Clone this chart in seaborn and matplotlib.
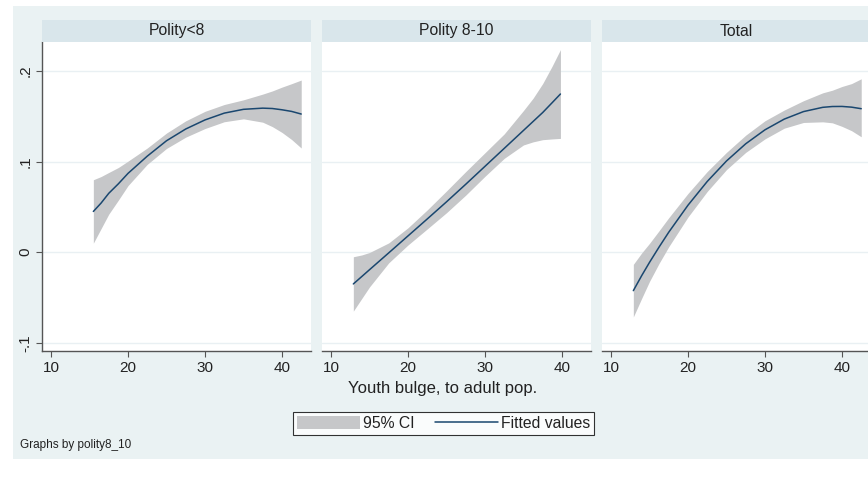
import numpy as np
import pandas as pd
import matplotlib
matplotlib.use("Agg")
import matplotlib.pyplot as plt
from matplotlib.patches import Rectangle, Patch
from matplotlib.lines import Line2D
import seaborn as sns

# ---------------- data ----------------
panels = ["Polity<8", "Polity 8-10", "Total"]

youth_lt8 = [15.5, 16.5, 17.5, 18.75, 20, 22.5, 25, 27.5, 30, 32.5, 35, 37.5, 38.75, 40, 41.25, 42.5]
fit_lt8 = [0.045, 0.0542, 0.065, 0.0755, 0.087, 0.106, 0.123, 0.136, 0.146, 0.1535, 0.1577, 0.159,
           0.1586, 0.1572, 0.1554, 0.1525]
hi_lt8 = [0.080, 0.0835, 0.088, 0.0935, 0.1005, 0.115, 0.1315, 0.145, 0.1555, 0.163, 0.1682, 0.1745,
          0.178, 0.1822, 0.186, 0.190]
lo_lt8 = [0.010, 0.026, 0.042, 0.0575, 0.0735, 0.097, 0.1145, 0.127, 0.1365, 0.144, 0.1472, 0.1435,
          0.1386, 0.1322, 0.1244, 0.115]

youth_810 = [12.9, 14, 15, 17.5, 20, 22.5, 25, 27.5, 30, 32.5, 35, 36.25, 37.5, 38.7, 39.8]
fit_810 = [-0.035, -0.0268, -0.0193, -0.0007, 0.018, 0.0367, 0.0556, 0.075, 0.0948, 0.1146, 0.1344,
           0.1443, 0.1542, 0.1648, 0.1746]
hi_810 = [-0.005, -0.003, -0.0003, 0.0103, 0.027, 0.0467, 0.0676, 0.089, 0.1098, 0.1306, 0.1564,
          0.170, 0.1862, 0.205, 0.2236]
lo_810 = [-0.065, -0.051, -0.0383, -0.0117, 0.008, 0.0257, 0.0436, 0.063, 0.0838, 0.1036, 0.1184,
          0.1218, 0.1242, 0.1250, 0.1256]

youth_tot = [12.9, 14, 15, 16.25, 17.5, 20, 22.5, 25, 27.5, 30, 32.5, 35, 37.5, 38.75, 40, 41.25, 42.5]
fit_tot = [-0.0424, -0.0256, -0.0112, 0.0058, 0.0221, 0.0519, 0.0781, 0.1007, 0.1197, 0.1351, 0.1469,
           0.1552, 0.1599, 0.1608, 0.1609, 0.1601, 0.1584]
hi_tot = [-0.0134, -0.0006, 0.0098, 0.0238, 0.0381, 0.0649, 0.0891, 0.1102, 0.1292, 0.1451, 0.1569,
          0.1672, 0.1759, 0.1788, 0.1829, 0.1861, 0.1914]
lo_tot = [-0.0714, -0.0506, -0.0322, -0.0122, 0.0061, 0.0389, 0.0671, 0.0912, 0.1102, 0.1251, 0.1369,
          0.1432, 0.1439, 0.1428, 0.1389, 0.1341, 0.1274]

x_ticks = [10, 20, 30, 40]
y_ticks = [-0.1, 0.0, 0.1, 0.2]
y_tick_labels = ["-.1", "0", ".1", ".2"]

frames = []
for name, xs, f, lo, hi in [
    (panels[0], youth_lt8, fit_lt8, lo_lt8, hi_lt8),
    (panels[1], youth_810, fit_810, lo_810, hi_810),
    (panels[2], youth_tot, fit_tot, lo_tot, hi_tot),
]:
    frames.append(pd.DataFrame({"group": name, "youth": xs, "fit": f, "lo": lo, "hi": hi}))
df = pd.concat(frames, ignore_index=True)

# ---------------- styling ----------------
sns.set_style("white")
plt.rcParams["font.family"] = ["Liberation Sans", "DejaVu Sans"]

W, H = 868, 479
BG = "#eaf2f3"
STRIP = "#d9e6eb"
GRID = "#e9f0f3"
CI = "#c6c7c9"
NAVY = "#1a476f"
AXC = "#555555"
TXT = "#222222"

fig = plt.figure(figsize=(W / 100, H / 100), dpi=100)
fig.patch.set_facecolor("white")
fig.add_artist(Rectangle((13 / W, 1 - 459 / H), 1 - 13 / W, (459 - 6) / H,
                         transform=fig.transFigure, facecolor=BG,
                         edgecolor="none", zorder=-5))

lefts = [42, 322, 602]
pw = 269
top, bottom = 42, 351

for i, (name, left) in enumerate(zip(panels, lefts)):
    ax = fig.add_axes([left / W, 1 - bottom / H, pw / W, (bottom - top) / H])
    ax.set_facecolor("white")
    sub = df[df["group"] == name]
    ax.fill_between(sub["youth"], sub["lo"], sub["hi"], color=CI, linewidth=0, zorder=2)
    sns.lineplot(data=sub, x="youth", y="fit", ax=ax, color=NAVY, linewidth=1.1,
                 errorbar=None, zorder=3)
    ax.set_xlim(8.83, 43.77)
    ax.set_ylim(-0.109, 0.232)
    ax.set_xticks(x_ticks)
    ax.set_xticklabels([str(t) for t in x_ticks])
    ax.set_yticks(y_ticks)
    ax.set_yticklabels(y_tick_labels, rotation=90, va="center")
    ax.grid(axis="y", color=GRID, linewidth=1.0)
    ax.grid(axis="x", visible=False)
    ax.set_axisbelow(True)
    ax.set_xlabel("")
    ax.set_ylabel("")
    for s in ["top", "right"]:
        ax.spines[s].set_visible(False)
    ax.spines["bottom"].set_color(AXC)
    ax.spines["bottom"].set_linewidth(1.0)
    ax.tick_params(axis="x", direction="out", length=4, width=0.8, color=AXC,
                   labelsize=11, labelcolor=TXT, pad=3, bottom=True)
    if i == 0:
        ax.spines["left"].set_color(AXC)
        ax.spines["left"].set_linewidth(1.0)
        ax.tick_params(axis="y", direction="out", length=4, width=0.8, color=AXC,
                       labelsize=11, labelcolor=TXT, pad=3, left=True)
    else:
        ax.spines["left"].set_visible(False)
        ax.tick_params(axis="y", left=False, labelleft=False)

    sax = fig.add_axes([left / W, 1 - top / H, pw / W, 22 / H])
    sax.set_facecolor(STRIP)
    sax.set_xticks([])
    sax.set_yticks([])
    for s in sax.spines.values():
        s.set_visible(False)
    sax.text(0.5, 0.5, name, ha="center", va="center", fontsize=11.3, color=TXT,
             transform=sax.transAxes)

fig.text(443 / W, 1 - 389 / H, "Youth bulge, to adult pop.", ha="center", va="center",
         fontsize=12, color=TXT)

handles = [Patch(facecolor=CI, edgecolor="none"),
           Line2D([0], [0], color=NAVY, linewidth=1.1)]
leg = fig.legend(handles, ["95% CI", "Fitted values"], loc="center",
                 bbox_to_anchor=(443.5 / W, 1 - 423.5 / H), ncol=2, fontsize=11.3,
                 frameon=True, fancybox=False, edgecolor="black",
                 handlelength=4.0, handleheight=0.95, handletextpad=0.2,
                 columnspacing=1.3, borderpad=0.25, borderaxespad=0)
leg.get_frame().set_linewidth(0.8)
leg.get_frame().set_facecolor("white")
for t in leg.get_texts():
    t.set_color(TXT)

fig.text(20 / W, 1 - 445 / H, "Graphs by polity8_10", ha="left", va="center",
         fontsize=8.5, color=TXT)

fig.savefig("out.png", dpi=100, facecolor="white")
